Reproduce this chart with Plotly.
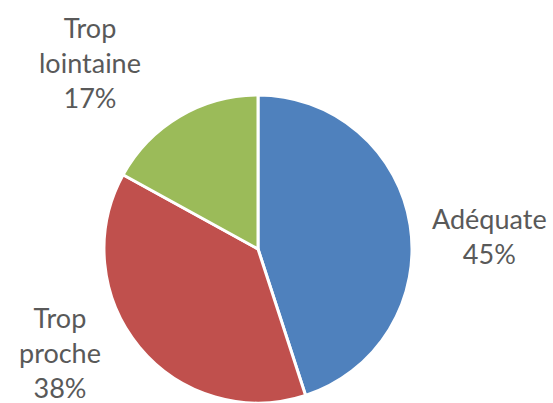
import plotly.graph_objects as go

labels = ["Adéquate", "Trop proche", "Trop lointaine"]
values = [45, 38, 17]
label_lines = [["Adéquate"], ["Trop", "proche"], ["Trop", "lointaine"]]
colors = ["#4F81BD", "#C0504D", "#9BBB59"]

W, H = 553, 403
fig = go.Figure(go.Pie(
    labels=labels, values=values, sort=False, direction="clockwise", rotation=0,
    marker=dict(colors=colors, line=dict(color="white", width=3)),
    textinfo="none", hoverinfo="label+percent",
    domain=dict(x=[104 / W, 412 / W], y=[0, 1 - 95 / H]),
    showlegend=False,
))

pos = [(490, 236), (60, 352), (90, 62)]
total = sum(values)
for lines, v, (px, py) in zip(label_lines, values, pos):
    txt = "<br>".join(lines + [f"{round(100 * v / total)}%"])
    fig.add_annotation(x=px / W, y=1 - py / H, xref="paper", yref="paper",
                       text=txt, showarrow=False, xanchor="center", yanchor="middle",
                       borderpad=0,
                       font=dict(family="Lato", size=27, color="#595959"))

fig.update_layout(width=W, height=H, margin=dict(l=0, r=0, t=0, b=0),
                  paper_bgcolor="white", plot_bgcolor="white")
fig.write_html("out.html", config={"displayModeBar": False},
               post_script="document.body.style.margin='0';document.body.style.overflow='hidden';")
